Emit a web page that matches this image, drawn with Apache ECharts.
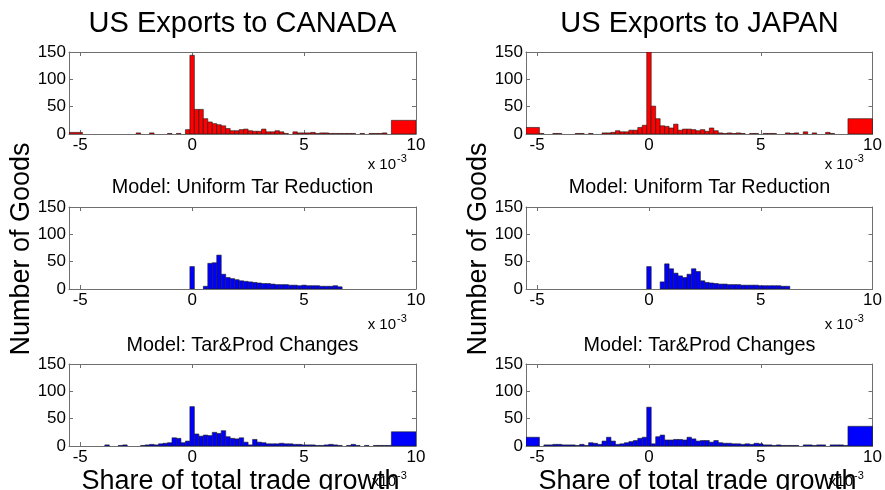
<!DOCTYPE html>
<html>
<head>
<meta charset="utf-8">
<title>US Exports histograms</title>
<script src="https://cdn.jsdelivr.net/npm/echarts@6.0.0/dist/echarts.min.js"></script>
<style>
  html, body { margin: 0; padding: 0; background: #fff; }
  #main { width: 885px; height: 490px; }
</style>
</head>
<body>
<div id="main"></div>
<script>
// histogram bins: 0.2e-3 wide, first regular bin starts at -4.9e-3, overflow bins at both ends
const binLo = -4.9
const binW = 0.2
const xMin = -5.5
const xMax = 10
const xTicks = [-5, 0, 5, 10]
const yTicks = [0, 50, 100, 150]

const panelTitles = ['US Exports to CANADA', 'US Exports to JAPAN']
const rowTitles = ['', 'Model: Uniform Tar Reduction', 'Model: Tar&Prod Changes']

// counts per bin, centers -4.8 ... 8.8
const caData = [
  0, 0, 0, 0, 0, 0, 0, 0, 0, 0, 0, 0, 2, 0, 0, 2, 0, 0, 0, 1, 0, 1, 0, 8,
  144, 45, 45, 28, 22, 19, 17, 15, 10, 6, 6, 8, 9, 6, 5, 5, 9, 4, 4, 6,
  4, 1, 0, 4, 2, 2, 2, 3, 1, 2, 2, 1, 1, 1, 1, 1, 1, 0, 1, 0, 1, 1, 1, 2, 0
]
const jpData = [
  1, 0, 0, 1, 1, 0, 0, 0, 1, 1, 0, 1, 0, 0, 2, 2, 3, 6, 4, 4, 7, 7, 12, 16,
  150, 51, 28, 15, 14, 11, 18, 7, 9, 9, 8, 6, 8, 5, 11, 6, 2, 1, 2, 1,
  2, 1, 0, 1, 1, 0, 1, 1, 1, 0, 0, 2, 1, 2, 0, 4, 0, 2, 0, 0, 3, 1, 0, 0, 0
]
const caUniform = [
  0, 0, 0, 0, 0, 0, 0, 0, 0, 0, 0, 0, 0, 0, 0, 0, 0, 0, 0, 0, 0, 0, 0, 0,
  41, 0, 0, 5, 47, 48, 62, 27, 21, 19, 17, 15, 14, 13, 12, 11, 10, 10, 9, 8,
  8, 8, 7, 7, 6, 7, 6, 6, 6, 5, 5, 5, 6, 4, 0, 0, 0, 0, 0, 0, 0, 0, 0, 0, 0
]
const jpUniform = [
  0, 0, 0, 0, 0, 0, 0, 0, 0, 0, 0, 0, 0, 0, 0, 0, 0, 0, 0, 0, 0, 0, 0, 0,
  41, 0, 0, 13, 46, 37, 29, 24, 21, 27, 37, 32, 15, 12, 11, 10, 9, 9, 8, 8,
  8, 7, 7, 7, 7, 6, 6, 6, 6, 6, 5, 5, 0, 0, 0, 0, 0, 0, 0, 0, 0, 0, 0, 0, 0
]
const caTarProd = [
  0, 0, 0, 0, 0, 2, 0, 0, 1, 2, 0, 0, 0, 1, 2, 3, 2, 4, 5, 6, 15, 14, 6, 9,
  72, 22, 18, 20, 19, 25, 23, 28, 17, 14, 13, 15, 7, 2, 12, 7, 6, 4, 4, 4,
  5, 4, 4, 3, 3, 2, 2, 2, 1, 1, 2, 3, 2, 1, 0, 1, 3, 1, 0, 1, 0, 1, 1, 1, 1
]
const jpTarProd = [
  0, 2, 2, 3, 3, 2, 2, 2, 1, 3, 1, 6, 5, 3, 9, 16, 9, 3, 4, 6, 8, 10, 14, 16,
  71, 4, 17, 20, 11, 11, 12, 12, 11, 16, 13, 9, 10, 10, 7, 10, 6, 5, 5, 4,
  4, 3, 4, 3, 5, 4, 2, 2, 1, 2, 1, 1, 1, 1, 0, 2, 2, 1, 2, 2, 0, 2, 2, 2, 1
]
// overflow bins, order: caData, jpData, caUniform, jpUniform, caTarProd, jpTarProd
const lowTail = [3, 12, 0, 0, 0, 16]
const highTail = [25, 28, 0, 0, 26, 36]

const panels = [caData, jpData, caUniform, jpUniform, caTarProd, jpTarProd]
const barColors = ['#ff0000', '#ff0000', '#0000ff', '#0000ff', '#0000ff', '#0000ff']

const font = "'Liberation Sans', Arial, sans-serif"
const frame = '#6f6f6f'
const colLeft = [69, 526]
const rowTop = [52, 207, 364]
const gridW = 347
const gridH = 82

function binItems(counts, low, high) {
  const items = []
  if (low) items.push([xMin, binLo, low])
  counts.forEach((v, i) => {
    if (v) items.push([binLo + i * binW, binLo + (i + 1) * binW, v])
  })
  if (high) items.push([binLo + counts.length * binW, xMax, high])
  return items
}

const grid = []
const xAxis = []
const yAxis = []
const series = []

panels.forEach((counts, g) => {
  const col = g % 2
  const row = Math.floor(g / 2)
  grid.push({ left: colLeft[col], top: rowTop[row], width: gridW, height: gridH })
  const tick = { show: true, inside: true, length: 4, lineStyle: { color: frame }, customValues: xTicks }
  xAxis.push({
    type: 'value', gridIndex: g, min: xMin, max: xMax, position: 'bottom',
    axisLine: { show: true, onZero: false, lineStyle: { color: frame } },
    axisTick: tick,
    axisLabel: { customValues: xTicks, fontSize: 17, color: '#000', fontFamily: font, margin: 3 },
    splitLine: { show: false }
  })
  xAxis.push({
    type: 'value', gridIndex: g, min: xMin, max: xMax, position: 'top',
    axisLine: { show: true, onZero: false, lineStyle: { color: frame } },
    axisTick: tick,
    axisLabel: { show: false },
    splitLine: { show: false }
  })
  const ytick = { show: true, inside: true, length: 4, lineStyle: { color: frame } }
  yAxis.push({
    type: 'value', gridIndex: g, min: 0, max: 150, interval: 50, position: 'left',
    axisLine: { show: true, onZero: false, lineStyle: { color: frame } },
    axisTick: ytick,
    axisLabel: { fontSize: 17, color: '#000', fontFamily: font, margin: 3 },
    splitLine: { show: false }
  })
  yAxis.push({
    type: 'value', gridIndex: g, min: 0, max: 150, interval: 50, position: 'right',
    axisLine: { show: true, onZero: false, lineStyle: { color: frame } },
    axisTick: ytick,
    axisLabel: { show: false },
    splitLine: { show: false }
  })
  const fill = barColors[g]
  series.push({
    type: 'custom',
    xAxisIndex: 2 * g,
    yAxisIndex: 2 * g,
    clip: true,
    encode: { x: [0, 1], y: 2 },
    data: binItems(counts, lowTail[g], highTail[g]),
    renderItem: function (params, api) {
      const p0 = api.coord([api.value(0), 0])
      const p1 = api.coord([api.value(1), api.value(2)])
      return {
        type: 'rect',
        shape: { x: p0[0], y: p1[1], width: p1[0] - p0[0], height: p0[1] - p1[1] },
        style: { fill: fill, stroke: '#1a1a1a', lineWidth: 0.6 }
      }
    },
    silent: true
  })
})

const graphic = []
function text(x, y, str, size, extra) {
  graphic.push(Object.assign({
    type: 'text', x: x, y: y,
    style: { text: str, fontSize: size, fontFamily: font, fill: '#000', align: 'center', verticalAlign: 'middle' }
  }, extra || {}))
}

colLeft.forEach((left, col) => {
  const cx = left + gridW / 2
  text(cx, 24, panelTitles[col], 29)
  text(cx, 188, rowTitles[1], 19.8)
  text(cx, 346, rowTitles[2], 19.8)
  text(left - 47, 249, 'Number of Goods', 27, { rotation: Math.PI / 2 })
  text(cx - 2, 482, 'Share of total trade growth', 27)
  // axis exponent labels
  const ex = left + gridW - 20
  ;[165, 325, 482].forEach((y, r) => {
    const gap = r === 2 ? 'x10' : 'x 10'
    graphic.push({
      type: 'text', x: ex, y: y,
      style: { text: gap, fontSize: 15, fontFamily: font, fill: '#000', align: 'right', verticalAlign: 'middle' }
    })
    graphic.push({
      type: 'text', x: ex + 1, y: y - 6,
      style: { text: '-3', fontSize: 11, fontFamily: font, fill: '#000', align: 'left', verticalAlign: 'middle' }
    })
  })
})

const chartDom = document.getElementById('main')
const myChart = echarts.init(chartDom)
let option = {
  backgroundColor: '#fff',
  animation: false,
  grid: grid,
  xAxis: xAxis,
  yAxis: yAxis,
  series: series,
  graphic: graphic
}
option && myChart.setOption(option)
</script>
</body>
</html>
